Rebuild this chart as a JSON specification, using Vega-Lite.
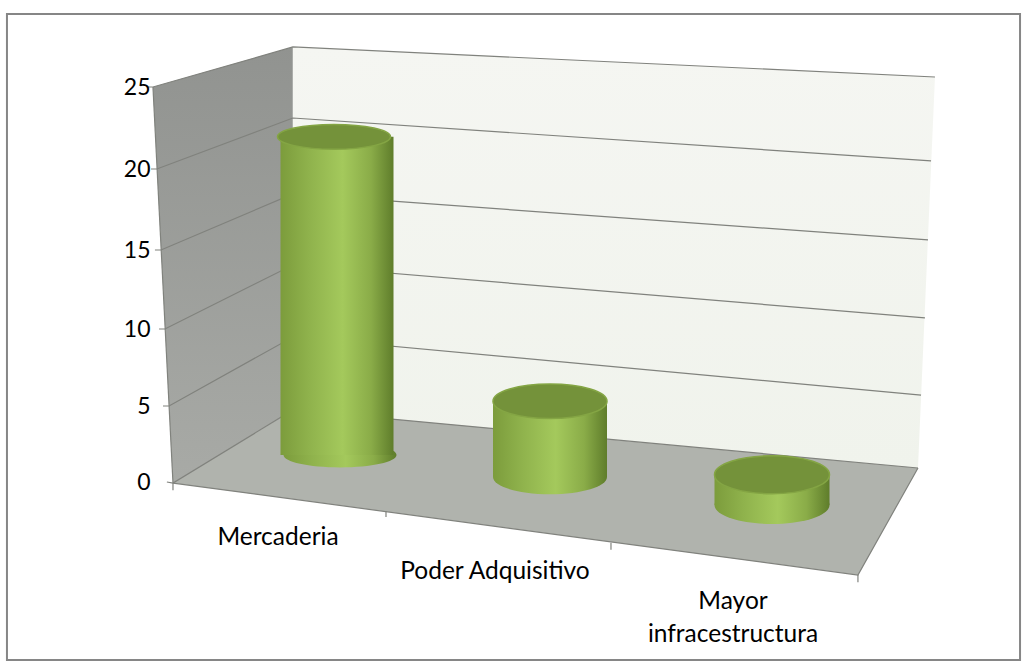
{"$schema":"https://vega.github.io/schema/vega-lite/v6.json","width":1027,"height":670,"padding":0,"autosize":{"type":"fit","contains":"padding"},"background":"#ffffff","config":{"view":{"stroke":null}},
"datasets":{
"bars":[{"Category":"Mercaderia","value":21,"label":"Mercaderia"},{"Category":"Poder Adquisitivo","value":5,"label":"Poder Adquisitivo"},{"Category":"Mayor infracestructura","value":2,"label":"Mayor\ninfracestructura"}],
"backwall":[{"u":0.796,"v":27.44,"v2":4.74},{"u":3.669,"v":25.66,"v2":0.92},{"u":3.747,"v":25.61,"v2":25.61}],
"leftwall":[{"u":0.153,"v":25,"v2":25},{"u":0.245,"v":25.35,"v2":-0.07},{"u":0.796,"v":27.44,"v2":4.74}],
"floor":[{"u":0.245,"v":-0.07,"v2":-0.07},{"u":0.796,"v":4.74,"v2":-1.125},{"u":3.393,"v":1.29,"v2":-6.12},{"u":3.669,"v":0.92,"v2":0.92}],
"grid":[
{"g":"25","i":0,"u":0.125,"v":25},{"g":"25","i":1,"u":0.153,"v":25},{"g":"25","i":2,"u":0.796,"v":27.44},{"g":"25","i":3,"u":3.747,"v":25.61},
{"g":"20","i":0,"u":0.144,"v":20},{"g":"20","i":1,"u":0.171,"v":20},{"g":"20","i":2,"u":0.796,"v":23.11},{"g":"20","i":3,"u":3.729,"v":20.49},
{"g":"15","i":0,"u":0.162,"v":15},{"g":"15","i":1,"u":0.190,"v":15},{"g":"15","i":2,"u":0.796,"v":18.46},{"g":"15","i":3,"u":3.715,"v":15.62},
{"g":"10","i":0,"u":0.181,"v":10},{"g":"10","i":1,"u":0.208,"v":10},{"g":"10","i":2,"u":0.796,"v":14.05},{"g":"10","i":3,"u":3.701,"v":10.70},
{"g":"5","i":0,"u":0.199,"v":5},{"g":"5","i":1,"u":0.227,"v":5},{"g":"5","i":2,"u":0.796,"v":9.48},{"g":"5","i":3,"u":3.683,"v":5.71},
{"g":"0","i":0,"u":0.217,"v":0},{"g":"0","i":1,"u":0.245,"v":-0.07},{"g":"0","i":2,"u":0.796,"v":4.74},{"g":"0","i":3,"u":3.669,"v":0.92},
{"g":"front","i":0,"u":0.245,"v":-0.07},{"g":"front","i":1,"u":3.393,"v":-6.12},{"g":"front","i":2,"u":3.669,"v":0.92},
{"g":"spine","i":0,"u":0.153,"v":25},{"g":"spine","i":1,"u":0.245,"v":-0.07}
],
"ticks":[{"u":0.245,"v":-0.07,"v2":-0.55},{"u":1.224,"v":-1.9,"v2":-2.3},{"u":2.258,"v":-4.0,"v2":-4.45},{"u":3.393,"v":-6.12,"v2":-6.6}],
"frame":[{"u":-0.518,"u2":4.138,"v":29.45,"v2":-11.71}]
},
"layer":[
{"data":{"name":"frame"},"mark":{"type":"rect","fill":"#ffffff","stroke":"#868686","strokeWidth":2},"encoding":{"x":{"field":"u","type":"quantitative","scale":{"domain":[-0.55,4.17],"nice":false,"zero":false},"axis":null},"x2":{"field":"u2"},"y":{"field":"v","type":"quantitative","scale":{"domain":[-12.37,0,5,10,15,20,25,30.3],"range":[670,482,406,329,250,169,87,0],"nice":false,"zero":false},"axis":null},"y2":{"field":"v2"}}},
{"data":{"name":"leftwall"},"mark":{"type":"area","fill":{"x1":0,"y1":0,"x2":0,"y2":1,"gradient":"linear","stops":[{"offset":0,"color":"#919390"},{"offset":1,"color":"#a8aaa6"}]}},"encoding":{"x":{"field":"u","type":"quantitative","scale":{"domain":[-0.55,4.17],"nice":false,"zero":false},"axis":null},"y":{"field":"v","type":"quantitative","scale":{"domain":[-12.37,0,5,10,15,20,25,30.3],"range":[670,482,406,329,250,169,87,0],"nice":false,"zero":false},"axis":null},"y2":{"field":"v2"}}},
{"data":{"name":"backwall"},"mark":{"type":"area","fill":{"x1":0,"y1":0,"x2":0,"y2":1,"gradient":"linear","stops":[{"offset":0,"color":"#f5f6f2"},{"offset":1,"color":"#f0f3ec"}]}},"encoding":{"x":{"field":"u","type":"quantitative","scale":{"domain":[-0.55,4.17],"nice":false,"zero":false},"axis":null},"y":{"field":"v","type":"quantitative","scale":{"domain":[-12.37,0,5,10,15,20,25,30.3],"range":[670,482,406,329,250,169,87,0],"nice":false,"zero":false},"axis":null},"y2":{"field":"v2"}}},
{"data":{"name":"floor"},"mark":{"type":"area","fill":"#b0b3ad"},"encoding":{"x":{"field":"u","type":"quantitative","scale":{"domain":[-0.55,4.17],"nice":false,"zero":false},"axis":null},"y":{"field":"v","type":"quantitative","scale":{"domain":[-12.37,0,5,10,15,20,25,30.3],"range":[670,482,406,329,250,169,87,0],"nice":false,"zero":false},"axis":null},"y2":{"field":"v2"}}},
{"data":{"name":"grid"},"mark":{"type":"line","stroke":"#80827d","strokeWidth":1.2},"encoding":{"detail":{"field":"g"},"order":{"field":"i"},"x":{"field":"u","type":"quantitative","scale":{"domain":[-0.55,4.17],"nice":false,"zero":false},"axis":null},"y":{"field":"v","type":"quantitative","scale":{"domain":[-12.37,0,5,10,15,20,25,30.3],"range":[670,482,406,329,250,169,87,0],"nice":false,"zero":false},"axis":{"title":null,"values":[0,5,10,15,20,25],"offset":-150,"domain":false,"ticks":false,"grid":false,"zindex":1,"labelPadding":0,"labelFont":"Lato","labelFontSize":23,"labelColor":"#000000","labelOverlap":false,"encode":{"labels":{"update":{"dx":{"signal":"-0.8*datum.value"}}}}}}}},
{"data":{"name":"ticks"},"mark":{"type":"rule","stroke":"#80827d","strokeWidth":1.2},"encoding":{"x":{"field":"u","type":"quantitative","scale":{"domain":[-0.55,4.17],"nice":false,"zero":false},"axis":null},"y":{"field":"v","type":"quantitative","scale":{"domain":[-12.37,0,5,10,15,20,25,30.3],"range":[670,482,406,329,250,169,87,0],"nice":false,"zero":false},"axis":null},"y2":{"field":"v2"}}},
{"data":{"name":"bars"},"mark":{"type":"point","filled":true,"opacity":1,"xOffset":{"expr":"[3,-4.5,0][indexof(['Mercaderia','Poder Adquisitivo','Mayor infracestructura'],datum.Category)]"},"yOffset":{"expr":"[-27,-5,23][indexof(['Mercaderia','Poder Adquisitivo','Mayor infracestructura'],datum.Category)]"},"fill":{"x1":0,"y1":0,"x2":1,"y2":0,"gradient":"linear","stops":[{"offset":0,"color":"#7c9c3c"},{"offset":0.25,"color":"#8fb24c"},{"offset":0.55,"color":"#a4c95c"},{"offset":0.8,"color":"#8aac48"},{"offset":1,"color":"#5f7d2b"}]}},"encoding":{"x":{"field":"Category","type":"nominal","scale":{"type":"point","domain":["Mercaderia","Poder Adquisitivo","Mayor infracestructura"],"range":[337,772],"padding":0},"axis":null},"y":{"datum":0,"type":"quantitative","scale":{"domain":[0,25],"range":[482,103.25],"nice":false},"axis":null},"shape":{"field":"Category","type":"nominal","legend":null,"scale":{"domain":["Mercaderia","Poder Adquisitivo","Mayor infracestructura"],"range":["M-1,0A1,.22,0,1,1,1,0A1,.22,0,1,1,-1,0Z","M-1,0A1,.304,0,1,1,1,0A1,.304,0,1,1,-1,0Z","M-1,0A1,.33,0,1,1,1,0A1,.33,0,1,1,-1,0Z"]}},"size":{"field":"Category","type":"ordinal","legend":null,"scale":{"domain":["Mercaderia","Poder Adquisitivo","Mayor infracestructura"],"range":[12769,13225,14641]}}}},
{"data":{"name":"bars"},"mark":{"type":"bar","xOffset":{"expr":"[0,-4.5,0][indexof(['Mercaderia','Poder Adquisitivo','Mayor infracestructura'],datum.Category)]"},"yOffset":{"expr":"[-27,-5,23][indexof(['Mercaderia','Poder Adquisitivo','Mayor infracestructura'],datum.Category)]"},"y2Offset":{"expr":"[-27,-5,23][indexof(['Mercaderia','Poder Adquisitivo','Mayor infracestructura'],datum.Category)]"},"fill":{"x1":0,"y1":0,"x2":1,"y2":0,"gradient":"linear","stops":[{"offset":0,"color":"#7c9c3c"},{"offset":0.25,"color":"#8fb24c"},{"offset":0.55,"color":"#a4c95c"},{"offset":0.8,"color":"#8aac48"},{"offset":1,"color":"#5f7d2b"}]}},"encoding":{"x":{"field":"Category","type":"nominal","scale":{"type":"point","domain":["Mercaderia","Poder Adquisitivo","Mayor infracestructura"],"range":[337,772],"padding":0},"axis":null},"y":{"field":"value","type":"quantitative","scale":{"domain":[0,25],"range":[482,103.25],"nice":false},"axis":null},"size":{"field":"Category","type":"ordinal","legend":null,"scale":{"domain":["Mercaderia","Poder Adquisitivo","Mayor infracestructura"],"range":[113,115,121]}}}},
{"data":{"name":"bars"},"mark":{"type":"point","filled":true,"opacity":1,"xOffset":{"expr":"[-3,-4.5,0][indexof(['Mercaderia','Poder Adquisitivo','Mayor infracestructura'],datum.Category)]"},"yOffset":{"expr":"[-27,-5,23][indexof(['Mercaderia','Poder Adquisitivo','Mayor infracestructura'],datum.Category)]"},"fill":"#74923a","stroke":"#84a544","strokeWidth":1.5},"encoding":{"x":{"field":"Category","type":"nominal","scale":{"type":"point","domain":["Mercaderia","Poder Adquisitivo","Mayor infracestructura"],"range":[337,772],"padding":0},"axis":null},"y":{"field":"value","type":"quantitative","scale":{"domain":[0,25],"range":[482,103.25],"nice":false},"axis":null},"shape":{"field":"Category","type":"nominal","legend":null,"scale":{"domain":["Mercaderia","Poder Adquisitivo","Mayor infracestructura"],"range":["M-1,0A1,.22,0,1,1,1,0A1,.22,0,1,1,-1,0Z","M-1,0A1,.304,0,1,1,1,0A1,.304,0,1,1,-1,0Z","M-1,0A1,.33,0,1,1,1,0A1,.33,0,1,1,-1,0Z"]}},"size":{"field":"Category","type":"ordinal","legend":null,"scale":{"domain":["Mercaderia","Poder Adquisitivo","Mayor infracestructura"],"range":[12769,13225,14641]}}}},
{"data":{"name":"bars"},"mark":{"type":"text","font":"Lato","fontSize":24.5,"color":"#000000","lineBreak":"\n","lineHeight":33,"baseline":"middle","xOffset":{"expr":"[0,-10.5,0][indexof(['Mercaderia','Poder Adquisitivo','Mayor infracestructura'],datum.Category)]"},"yOffset":{"expr":"[0,2,0][indexof(['Mercaderia','Poder Adquisitivo','Mayor infracestructura'],datum.Category)]"}},"encoding":{"text":{"field":"label"},"x":{"field":"Category","type":"nominal","scale":{"type":"point","domain":["Mercaderia","Poder Adquisitivo","Mayor infracestructura"],"range":[278,733],"padding":0},"axis":null},"y":{"field":"Category","type":"nominal","scale":{"type":"point","domain":["Mercaderia","Poder Adquisitivo","Mayor infracestructura"],"range":[538,602],"padding":0},"axis":null}}}
],
"resolve":{"scale":{"x":"independent","y":"independent","size":"independent","shape":"independent"}}}
